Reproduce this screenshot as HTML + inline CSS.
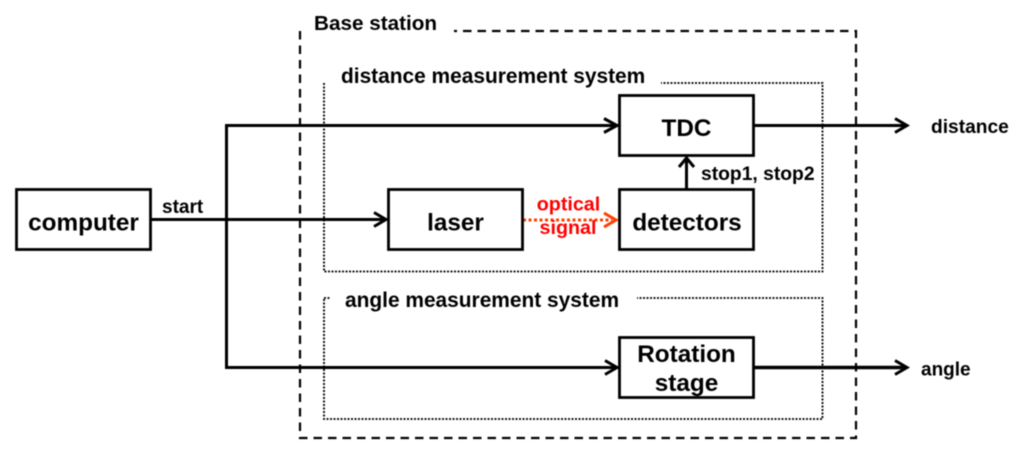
<!DOCTYPE html>
<html>
<head>
<meta charset="utf-8">
<style>
html,body{margin:0;padding:0;background:#fff;}
svg{display:block;filter:blur(0.4px);}
text{font-family:"Liberation Sans",Arial,sans-serif;font-weight:bold;fill:#000;}
</style>
</head>
<body>
<svg width="1024" height="455" viewBox="0 0 1024 455" xmlns="http://www.w3.org/2000/svg">
<rect width="1024" height="455" fill="#fff"/>
<!-- Dashed base station -->
<path d="M300 31V438H856V31H454" fill="none" stroke="#000" stroke-width="2.200" stroke-dasharray="8.500 6"/>
<!-- Dotted subsystems -->
<g fill="none" stroke="#000" stroke-width="1.800" stroke-dasharray="2 1.500">
<path d="M324 83V271.500H822.500V83H661"/>
<path d="M324 299V419H822.500V298H637"/>
<path d="M324 298H330"/>
</g>
<!-- Connectors -->
<g fill="none" stroke="#000" stroke-width="3">
<path d="M151 219.500H386"/>
<path d="M226.500 125.500V367.500"/>
<path d="M225 125.500H618"/>
<path d="M225 367.500H618"/>
<path d="M754 125.500H906"/>
<path d="M686.500 189V158"/>
<path d="M754 367.500H906" stroke-width="3.400"/>
<path d="M604 118.500L617 125.500L604 132.500"/>
<path d="M374 212.500L386 219.500L374 226.500"/>
<path d="M605 360.500L617 367.500L605 374.500"/>
<path d="M895 118.500L907 125.500L895 132.500"/>
<path d="M895 360.500L907 367.500L895 374.500"/>
<path d="M679 167L686.500 158L694 167"/>
</g>
<!-- Optical -->
<path d="M523 220H612" fill="none" stroke="#ff4000" stroke-width="3" stroke-dasharray="3 2.500"/>
<path d="M604 213L616 220L604 227" fill="none" stroke="#ff4000" stroke-width="3"/>
<!-- Boxes -->
<g fill="#fff" stroke="#000" stroke-width="2.800">
<rect x="16.500" y="189.500" width="134" height="60"/>
<rect x="388.500" y="189.500" width="134" height="60"/>
<rect x="619.500" y="95.500" width="134" height="60"/>
<rect x="619.500" y="189.500" width="134" height="60"/>
<rect x="619.500" y="337.500" width="134" height="60"/>
</g>
<!-- Labels -->
<text x="314" y="30" font-size="20.700">Base station</text>
<text x="341" y="83" font-size="20.900">distance measurement system</text>
<text x="345" y="307" font-size="20.900">angle measurement system</text>
<text x="686.500" y="136" font-size="24.300" text-anchor="middle">TDC</text>
<text x="83.500" y="230.500" font-size="24.300" text-anchor="middle">computer</text>
<text x="455.500" y="230.500" font-size="24.300" text-anchor="middle">laser</text>
<text x="687" y="230.500" font-size="24.300" text-anchor="middle">detectors</text>
<text x="686.500" y="362" font-size="24.300" text-anchor="middle">Rotation</text>
<text x="686.500" y="391" font-size="24.300" text-anchor="middle">stage</text>
<text x="162" y="213" font-size="19">start</text>
<text x="701" y="180" font-size="19.300">stop1, stop2</text>
<text x="931" y="133" font-size="19.200">distance</text>
<text x="921" y="375.500" font-size="19">angle</text>
<text x="568.500" y="210.500" font-size="19.700" text-anchor="middle" style="fill:#ff0000">optical</text>
<text x="568" y="234" font-size="19.700" text-anchor="middle" style="fill:#ff0000">signal</text>
</svg>
</body>
</html>
